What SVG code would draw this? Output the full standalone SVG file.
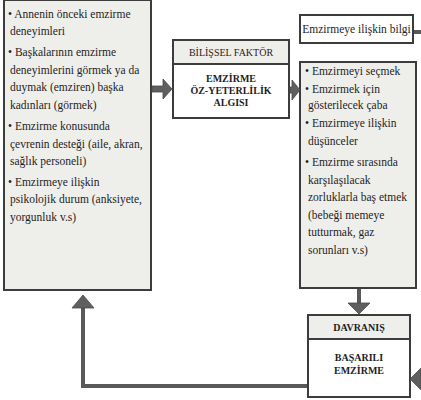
<svg xmlns="http://www.w3.org/2000/svg" width="421" height="400" viewBox="0 0 421 400">
  <style>
    .box { stroke: #3c3c3c; stroke-width: 2; }
    .tint { fill: #eeeeeb; }
    .plain { fill: #ffffff; }
    text { font-family: "Liberation Serif", "DejaVu Serif", serif; fill: #1e1e1e; }
    .txt { font-size: 11.5px; }
    .cap { font-size: 10px; text-anchor: middle; }
    .capb { font-size: 10px; font-weight: bold; text-anchor: middle; }
    .line { fill: none; stroke: #595959; stroke-width: 4; }
    .head { fill: #5f5f5f; stroke: #4a4a4a; stroke-width: 0.8; }
  </style>

  <!-- source factors -->
  <g id="sources">
    <rect class="box tint" x="4" y="0" width="147" height="290"/>
    <text class="txt" x="8" y="18">• Annenin önceki emzirme</text>
    <text class="txt" x="10" y="35">deneyimleri</text>
    <text class="txt" x="8" y="56">• Başkalarının emzirme</text>
    <text class="txt" x="10" y="74">deneyimlerini görmek ya da</text>
    <text class="txt" x="10" y="91">duymak (emziren) başka</text>
    <text class="txt" x="10" y="109">kadınları (görmek)</text>
    <text class="txt" x="8" y="130">• Emzirme konusunda</text>
    <text class="txt" x="10" y="148">çevrenin desteği (aile, akran,</text>
    <text class="txt" x="10" y="165">sağlık personeli)</text>
    <text class="txt" x="8" y="186">• Emzirmeye ilişkin</text>
    <text class="txt" x="10" y="203">psikolojik durum (anksiyete,</text>
    <text class="txt" x="10" y="221">yorgunluk v.s)</text>
  </g>

  <!-- cognitive factor -->
  <g id="cognitive">
    <rect class="box tint" x="173" y="40" width="116" height="24"/>
    <rect class="box plain" x="173" y="64" width="116" height="54"/>
    <text class="cap" x="231" y="55.5">BİLİŞSEL FAKTÖR</text>
    <text class="capb" x="231" y="82">EMZİRME</text>
    <text class="capb" x="231" y="94">ÖZ-YETERLİLİK</text>
    <text class="capb" x="231" y="106">ALGISI</text>
  </g>

  <!-- knowledge -->
  <g id="knowledge">
    <rect class="box plain" x="300" y="15" width="113" height="28"/>
    <text class="txt" x="356.5" y="33" text-anchor="middle">Emzirmeye ilişkin bilgi</text>
  </g>

  <!-- outcomes -->
  <g id="outcomes">
    <rect class="box tint" x="300" y="62" width="116" height="226"/>
    <text class="txt" x="305" y="75">• Emzirmeyi seçmek</text>
    <text class="txt" x="305" y="93">• Emzirmek için</text>
    <text class="txt" x="308" y="109">gösterilecek çaba</text>
    <text class="txt" x="305" y="127">• Emzirmeye ilişkin</text>
    <text class="txt" x="308" y="145">düşünceler</text>
    <text class="txt" x="305" y="166">• Emzirme sırasında</text>
    <text class="txt" x="308" y="184">karşılaşılacak</text>
    <text class="txt" x="308" y="201">zorluklarla baş etmek</text>
    <text class="txt" x="308" y="219">(bebeği memeye</text>
    <text class="txt" x="308" y="236">tutturmak, gaz</text>
    <text class="txt" x="308" y="254">sorunları v.s)</text>
  </g>

  <!-- behaviour -->
  <g id="behaviour">
    <rect class="box tint" x="308" y="315" width="102" height="24"/>
    <rect class="box plain" x="308" y="339" width="102" height="58"/>
    <text class="capb" x="359" y="330.5">DAVRANIŞ</text>
    <text class="capb" x="359" y="361">BAŞARILI</text>
    <text class="capb" x="359" y="374">EMZİRME</text>
  </g>

  <!-- connectors -->
  <g id="connectors">
    <!-- sources to cognitive -->
    <polygon class="head" points="152,86 163,86 163,79 172,89 163,99 163,92 152,92"/>
    <!-- cognitive to outcomes -->
    <polygon class="head" points="290,87 292,87 292,80 300,90 292,100 292,93 290,93"/>
    <!-- knowledge continues off to the right -->
    <line class="line" x1="414" y1="32" x2="421" y2="32"/>
    <!-- outcomes to behaviour -->
    <line class="line" x1="359" y1="289" x2="359" y2="304"/>
    <polygon class="head" points="348,303 370,303 359,314"/>
    <!-- knowledge arriving at behaviour from the right -->
    <polygon class="head" points="421,368 421,390 410,379"/>
    <!-- feedback from behaviour to sources -->
    <polyline class="line" points="307,386 83,386 83,307"/>
    <polygon class="head" points="72,308 94,308 83,295"/>
  </g>
</svg>
